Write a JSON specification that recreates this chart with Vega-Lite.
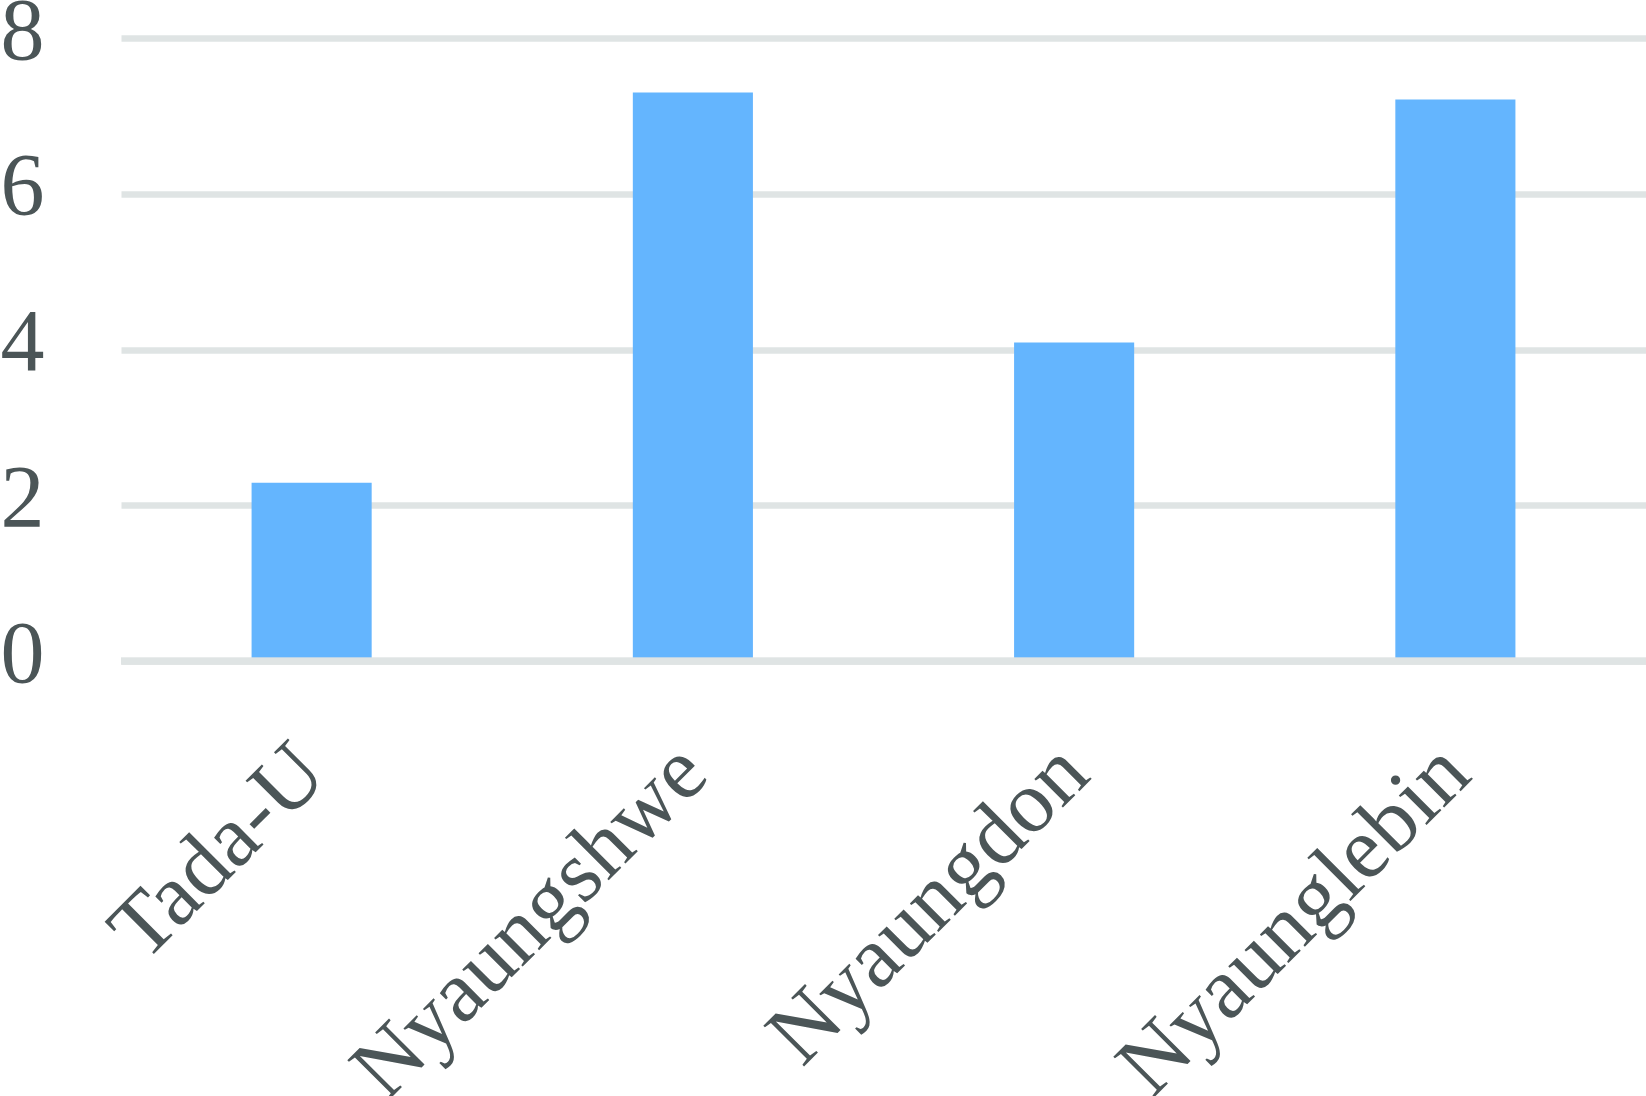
{
  "$schema": "https://vega.github.io/schema/vega-lite/v6.json",
  "autosize": "none",
  "padding": {"left": 121, "top": 38, "right": 0, "bottom": 435},
  "width": 1525,
  "height": 623,
  "background": "white",
  "config": {
    "view": {"stroke": null},
    "font": "Liberation Serif",
    "axis": {"labelFont": "Liberation Serif", "labelColor": "#4B5557", "labelFontSize": 88, "labelLimit": 0, "labelOverlap": false, "labelBound": false, "domain": false, "ticks": false, "title": null}
  },
  "data": {
    "values": [
      {"site": "Tada-U", "value": 2.29},
      {"site": "Nyaungshwe", "value": 7.30},
      {"site": "Nyaungdon", "value": 4.09},
      {"site": "Nyaunglebin", "value": 7.21}
    ]
  },
  "layer": [
    {
      "mark": {"type": "bar", "color": "#64B5FE"},
      "encoding": {
        "x": {"field": "site", "type": "nominal", "sort": null,
              "scale": {"paddingInner": 0.685, "paddingOuter": 0.3425},
              "axis": {"labelAngle": -45, "labelAlign": "right", "labelBaseline": "middle", "labelPadding": 98, "grid": false}},
        "y": {"field": "value", "type": "quantitative",
              "scale": {"domain": [0, 8], "nice": false},
              "axis": {"values": [0, 2, 4, 6, 8], "format": "d", "grid": true, "gridColor": "#DFE4E4", "gridWidth": 6.5, "labelAlign": "left", "labelPadding": 121, "labelBaseline": "middle", "labelOffset": -6}}
      }
    },
    {
      "mark": {"type": "rule", "color": "#DFE4E4", "strokeWidth": 6.5},
      "encoding": {"y": {"datum": 0}}
    }
  ]
}
